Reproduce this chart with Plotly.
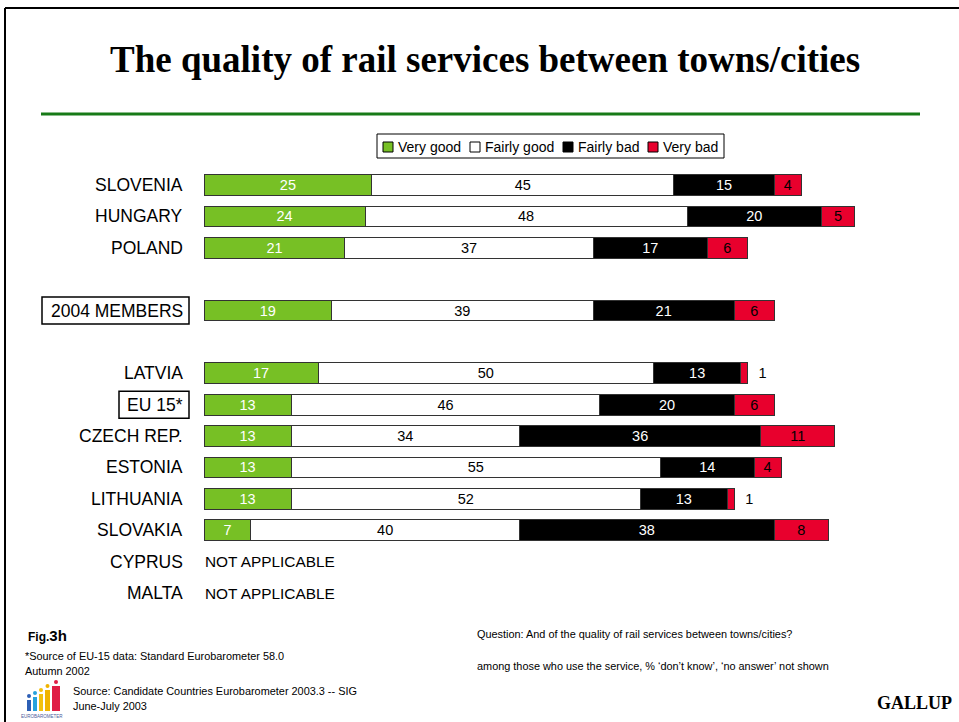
import plotly.graph_objects as go

W, H = 959, 722

# ---- data -------------------------------------------------------------
ROWS = ["SLOVENIA", "HUNGARY", "POLAND", None, "2004 MEMBERS", None,
        "LATVIA", "EU 15*", "CZECH REP.", "ESTONIA", "LITHUANIA", "SLOVAKIA",
        "CYPRUS", "MALTA"]
COUNTRIES = ["SLOVENIA", "HUNGARY", "POLAND", "2004 MEMBERS", "LATVIA", "EU 15*",
             "CZECH REP.", "ESTONIA", "LITHUANIA", "SLOVAKIA", "CYPRUS", "MALTA"]
SERIES = ["Very good", "Fairly good", "Fairly bad", "Very bad"]
VERY_GOOD = [25, 24, 21, 19, 17, 13, 13, 13, 13, 7, None, None]
FAIRLY_GOOD = [45, 48, 37, 39, 50, 46, 34, 55, 52, 40, None, None]
FAIRLY_BAD = [15, 20, 17, 21, 13, 20, 36, 14, 13, 38, None, None]
VERY_BAD = [4, 5, 6, 6, 1, 6, 11, 4, 1, 8, None, None]
NOT_APPLICABLE = ["CYPRUS", "MALTA"]
BOXED = {"2004 MEMBERS": 42, "EU 15*": 119}

VALUES = [VERY_GOOD, FAIRLY_GOOD, FAIRLY_BAD, VERY_BAD]
FILLS = ["#77c025", "#ffffff", "#000000", "#e8002d"]
TEXT_COLORS = ["#ffffff", "#000000", "#ffffff", "#000000"]

SANS = "Liberation Sans, Arial, sans-serif"
SERIF = "Liberation Serif, Times New Roman, serif"


def fx(px):
    return px / W


def fy(py):
    return 1 - py / H


ypos = {name: i for i, name in enumerate(ROWS) if name}
ys = [ypos[c] for c in COUNTRIES]

fig = go.Figure()
for name, vals, fill, tcol in zip(SERIES, VALUES, FILLS, TEXT_COLORS):
    positions, templates = [], []
    for v in vals:
        if v is not None and v <= 2:
            positions.append("outside")
            templates.append("\u00a0\u00a0%{text}")
        else:
            positions.append("inside")
            templates.append("%{text}")
    fig.add_trace(go.Bar(
        name=name, orientation="h", x=vals, y=ys,
        text=[("" if v is None else str(v)) for v in vals],
        texttemplate=templates, textposition=positions,
        insidetextanchor="middle", constraintext="none", textangle=0,
        insidetextfont=dict(family=SANS, size=14.5, color=tcol),
        outsidetextfont=dict(family=SANS, size=14.5, color="#000000"),
        marker=dict(color=fill, line=dict(color="#333333", width=1)),
        width=0.66, showlegend=False, cliponaxis=False,
    ))

fig.update_layout(
    width=W, height=H, barmode="stack",
    margin=dict(l=0, r=0, t=0, b=0),
    paper_bgcolor="#ffffff", plot_bgcolor="#ffffff",
    xaxis=dict(domain=[fx(204), fx(875)], range=[0, 100], visible=False,
               fixedrange=True),
    yaxis=dict(domain=[fy(608.7), fy(169.3)], range=[13.5, -0.5], visible=False,
               fixedrange=True),
)

shapes = []
annotations = []

# page frame (top and left edges)
shapes.append(dict(type="line", xref="paper", yref="paper", x0=fx(5), x1=1.0,
                   y0=fy(8), y1=fy(8), line=dict(color="#000000", width=2)))
shapes.append(dict(type="line", xref="paper", yref="paper", x0=fx(5), x1=fx(5),
                   y0=fy(8), y1=0, line=dict(color="#000000", width=2)))

# title and rule
annotations.append(dict(xref="paper", yref="paper", x=fx(485), y=fy(60),
                        text="<b>The quality of rail services between towns/cities</b>",
                        showarrow=False, xanchor="center", yanchor="middle",
                        font=dict(family=SERIF, size=37, color="#000000")))
shapes.append(dict(type="line", xref="paper", yref="paper", x0=fx(41), x1=fx(920),
                   y0=fy(114), y1=fy(114), line=dict(color="#177a17", width=3)))

# legend
shapes.append(dict(type="rect", xref="paper", yref="paper", x0=fx(377), x1=fx(724),
                   y0=fy(158), y1=fy(134), line=dict(color="#000000", width=1),
                   fillcolor="rgba(0,0,0,0)"))
LEGEND_X = [383, 470, 563, 648]
for lx, name, fill in zip(LEGEND_X, SERIES, FILLS):
    shapes.append(dict(type="rect", xref="paper", yref="paper", x0=fx(lx), x1=fx(lx + 10),
                       y0=fy(152), y1=fy(142), fillcolor=fill,
                       line=dict(color="#000000", width=1)))
    annotations.append(dict(xref="paper", yref="paper", x=fx(lx + 13), y=fy(147),
                            text=name, showarrow=False, xanchor="left", yanchor="middle",
                            font=dict(family=SANS, size=14, color="#000000")))

# row labels
for c in COUNTRIES:
    annotations.append(dict(xref="paper", yref="y", x=fx(185), y=ypos[c], text=c,
                            showarrow=False, xanchor="right", yanchor="middle",
                            font=dict(family=SANS, size=17.5, color="#000000")))
for c, left in BOXED.items():
    shapes.append(dict(type="rect", xref="paper", yref="y", x0=fx(left), x1=fx(189),
                       y0=ypos[c] - 0.43, y1=ypos[c] + 0.43,
                       line=dict(color="#000000", width=1.5),
                       fillcolor="rgba(0,0,0,0)"))
for c in NOT_APPLICABLE:
    annotations.append(dict(xref="x", yref="y", x=0, y=ypos[c], text="NOT APPLICABLE",
                            showarrow=False, xanchor="left", yanchor="middle", xshift=-1,
                            font=dict(family=SANS, size=15.4, color="#000000")))

# footer text
def note(x, y, text, size, family=SANS, anchor="left"):
    annotations.append(dict(xref="paper", yref="paper", x=fx(x), y=fy(y), text=text,
                            showarrow=False, xanchor=anchor, yanchor="middle",
                            font=dict(family=family, size=size, color="#000000")))


FOOT = 10.9
note(26, 635, "<b>Fig.</b><b><span style='font-size:15px'>3h</span></b>", 12)
note(23, 656, "*Source of EU-15 data: Standard Eurobarometer 58.0", FOOT)
note(23, 671, "Autumn 2002", FOOT)
note(71, 691, "Source: Candidate Countries Eurobarometer 2003.3 -- SIG", FOOT)
note(71, 706, "June-July 2003", FOOT)
note(475, 634, "Question: And of the quality of rail services between towns/cities?", FOOT)
note(475, 666, "among those who use the service, % \u2018don\u2019t know\u2019, \u2018no answer\u2019 not shown", FOOT)
note(954, 703, "<b>GALLUP</b>", 18, family=SERIF, anchor="right")

# Eurobarometer logo
LOGO_BARS = [(27, 31, 700, "#2d5fb5"), (33, 37, 697, "#27a2dc"), (39, 43, 694, "#f2c10f"),
             (45, 50, 690, "#f0b400"), (52, 60, 686, "#e01e45")]
for x0, x1, top, col in LOGO_BARS:
    shapes.append(dict(type="rect", xref="paper", yref="paper", x0=fx(x0), x1=fx(x1),
                       y0=fy(711), y1=fy(top), fillcolor=col, line=dict(width=0)))
    cx = (x0 + x1) / 2
    shapes.append(dict(type="circle", xref="paper", yref="paper", x0=fx(cx - 2), x1=fx(cx + 2),
                       y0=fy(top - 2), y1=fy(top - 6), fillcolor=col, line=dict(width=0)))
annotations.append(dict(xref="paper", yref="paper", x=fx(42), y=fy(716), text="EUROBAROMETER",
                        showarrow=False, xanchor="center", yanchor="middle",
                        font=dict(family=SANS, size=4.5, color="#4a5a9a")))

fig.update_layout(shapes=shapes, annotations=annotations)
fig.write_html("out.html")
